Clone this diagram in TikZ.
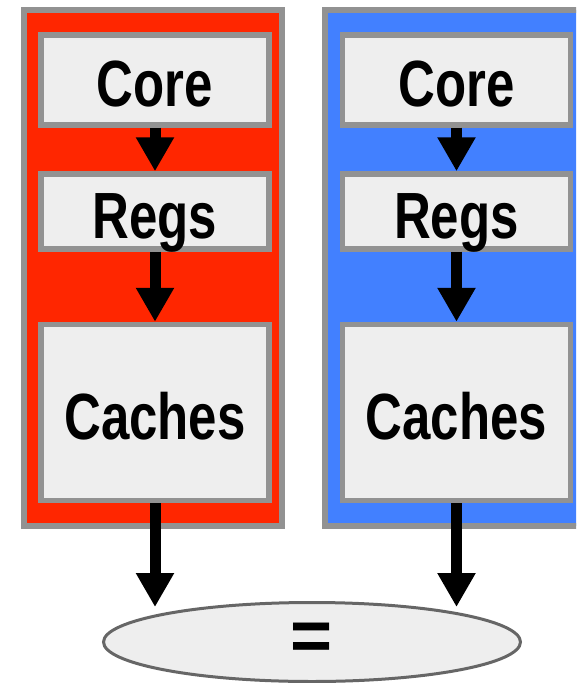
\documentclass[tikz,border=0pt]{standalone}
\usepackage{fontspec}
\newfontfamily\labelfont[FakeStretch=0.78]{Liberation Sans}
\newfontfamily\eqfont{Liberation Sans}
\usetikzlibrary{arrows.meta,shapes.geometric}
\definecolor{frameRed}{RGB}{255,38,0}
\definecolor{frameBlue}{RGB}{66,128,255}
\definecolor{borderGray}{RGB}{146,146,146}
\definecolor{boxFill}{RGB}{238,238,238}
\definecolor{ovalGray}{RGB}{102,102,102}
\begin{document}
\begin{tikzpicture}[x=0.75pt,y=-0.75pt,
  frame/.style={draw=borderGray,line width=4.5pt,rectangle,inner sep=0pt,
    minimum width=193.5pt,minimum height=387pt},
  unit/.style={draw=borderGray,fill=boxFill,line width=4.1pt,rectangle,inner sep=0pt,
    minimum width=171pt,text height=39.75pt,text depth=0pt,
    font=\labelfont\bfseries\fontsize{49}{49}\selectfont},
  flow/.style={line width=8.25pt,-{Triangle[width=27pt,length=25.5pt]}},
  result/.style={ellipse,draw=ovalGray,fill=boxFill,line width=2.25pt,inner sep=0pt,
    minimum width=312.75pt,minimum height=59.25pt,
    font=\eqfont\bfseries\fontsize{54}{54}\selectfont}]
  \useasboundingbox (0,0) rectangle (576,683);
  \clip (0,0) rectangle (576,683);

  % two processor frames
  \node[frame,fill=frameRed]  (lframe) at (153,268) {};
  \node[frame,fill=frameBlue] (rframe) at (454,268) {};

  % left column
  \node[unit,minimum height=67.5pt] (lcore) at (155,80) {Core};
  \node[unit,minimum height=56.25pt] (lregs) at (155,211.5) {Regs};
  \node[unit,minimum height=132pt] (lcache) at (155,412.5) {Caches};

  % right column
  \node[unit,minimum height=67.5pt] (rcore) at (456.5,80) {Core};
  \node[unit,minimum height=56.25pt] (rregs) at (456.5,211.5) {Regs};
  \node[unit,minimum height=132pt] (rcache) at (456.5,412.5) {Caches};

  % comparison
  \node[result] (cmp) at (312,642) {=};
  \coordinate (lend) at (155,607);
  \coordinate (rend) at (456.5,607);

  \draw[flow] (lcore.south) -- (lregs.north);
  \draw[flow] (lregs.south) -- (lcache.north);
  \draw[flow] (lcache.south) -- (lend);
  \draw[flow] (rcore.south) -- (rregs.north);
  \draw[flow] (rregs.south) -- (rcache.north);
  \draw[flow] (rcache.south) -- (rend);
\end{tikzpicture}
\end{document}
